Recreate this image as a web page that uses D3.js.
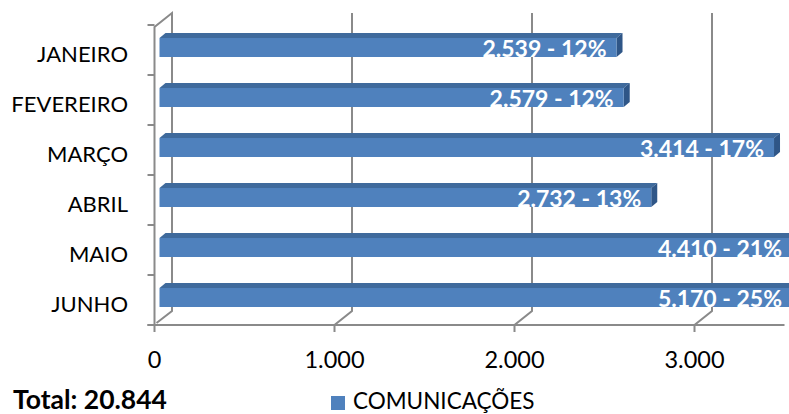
<!DOCTYPE html>
<html><head><meta charset="utf-8">
<script src="https://cdn.jsdelivr.net/npm/d3@7"></script>
<style>body{margin:0;background:#fff}svg{display:block}</style>
</head><body>
<script>
const categories = ["JANEIRO","FEVEREIRO","MARÇO","ABRIL","MAIO","JUNHO"];
const values = [2539, 2579, 3414, 2732, 4410, 5170];
const percents = ["12%","12%","17%","13%","21%","25%"];
const xTicks = [0, 1000, 2000, 3000];
const xTickLabels = ["0","1.000","2.000","3.000"];
const totalLabel = "Total: 20.844";
const seriesName = "COMUNICAÇÕES";

const W = 789, H = 414;
const FONT = "Lato, 'Open Sans', sans-serif";
const svg = d3.select("body").append("svg").attr("width", W).attr("height", H);

const x = d3.scaleLinear().domain([0, 3500]).range([154.5, 784.5]);
const y = d3.scaleBand().domain(categories).range([25, 325]).padding(0);
const DX = 17.5, DY = -14;       // back wall offset
const bdx = 5;                    // bar front-face offset
const ddx = 6, ddy = -5;          // bar depth
const barH = 19;
const grid = "#8a8a8a";
const yTop = 13;

const g = svg.append("g");
xTicks.forEach(t => {
  const fx = x(t), bx = fx + DX;
  if (t > 0) {
    g.append("path").attr("d", `M${bx},${yTop} L${bx},${325+DY} L${fx},325 L${fx},332`)
      .attr("fill","none").attr("stroke",grid).attr("stroke-width",2);
  }
});
g.append("path").attr("d", `M${x(0)},332 L${x(0)},${25+2} L${x(0)+DX},${yTop} L${x(0)+DX},${325+DY} L${x(0)+2},${323}`)
  .attr("fill","none").attr("stroke",grid).attr("stroke-width",2);
g.append("line").attr("x1", x(0)-7).attr("x2", x(3500)).attr("y1",325).attr("y2",325)
  .attr("stroke",grid).attr("stroke-width",2);
d3.range(categories.length + 1).forEach(i => {
  const yy = 25 + i * y.step();
  g.append("line").attr("x1", x(0)-7).attr("x2", x(0)).attr("y1", yy).attr("y2", yy)
    .attr("stroke",grid).attr("stroke-width",2);
});

const bars = svg.append("g");
categories.forEach((c, i) => {
  const v = values[i];
  const x0 = x(0) + bdx, x1 = x(v) + bdx;
  const yc = y(c) + y.bandwidth()/2 - 2.5;
  const y0 = yc - barH/2, y1 = yc + barH/2;
  bars.append("path").attr("d", `M${x0},${y0} L${x0+ddx},${y0+ddy} L${x1+ddx},${y0+ddy} L${x1},${y0} Z`)
    .attr("fill", "#3f6a9c");
  bars.append("path").attr("d", `M${x1},${y0} L${x1+ddx},${y0+ddy} L${x1+ddx},${y1+ddy} L${x1},${y1} Z`)
    .attr("fill", "#2f5687");
  bars.append("rect").attr("x", x0).attr("y", y0).attr("width", x1 - x0).attr("height", barH)
    .attr("fill", "#4f81bd");
  const lx = Math.min(x1, 792) - 10;
  bars.append("text").attr("x", lx).attr("y", y1 - 0.5).attr("text-anchor","end")
    .attr("font-family", FONT).attr("font-weight","bold").attr("font-size", 23)
    .attr("fill","#fff").text(d3.format(",")(v).replace(/,/g,".") + " - " + percents[i]);
  svg.append("text").attr("x", 128).attr("y", 25 + i*y.step() + 37)
    .attr("text-anchor","end").attr("font-family", FONT).attr("font-size", 22)
    .attr("fill","#000").text(c);
});

xTicks.forEach((t, i) => {
  svg.append("text").attr("x", x(t)).attr("y", 368).attr("text-anchor","middle")
    .attr("font-family", FONT).attr("font-size", 23.5).attr("fill","#000").text(xTickLabels[i]);
});

svg.append("text").attr("x", 13).attr("y", 409).attr("font-family", FONT)
  .attr("font-weight","bold").attr("font-size", 26.5).attr("fill","#000").text(totalLabel);

svg.append("rect").attr("x", 331).attr("y", 396).attr("width", 14).attr("height", 14).attr("fill","#4f81bd");
svg.append("text").attr("x", 353).attr("y", 409).attr("font-family", FONT)
  .attr("font-size", 22.5).attr("fill","#000").text(seriesName);
</script>
</body></html>
